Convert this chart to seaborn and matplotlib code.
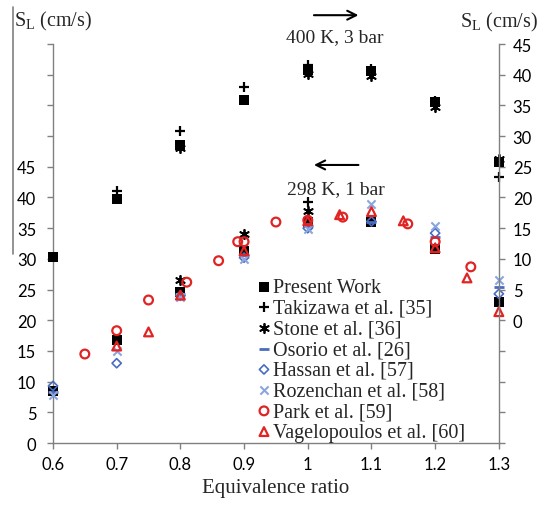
import matplotlib
matplotlib.use('Agg')
import matplotlib.pyplot as plt
from matplotlib.lines import Line2D
import seaborn as sns

# ---------------------------------------------------------------------------
# Data: laminar flame speed S_L (cm/s) vs equivalence ratio
# ---------------------------------------------------------------------------
# 298 K, 1 bar  -> left axis
phi_present = [0.6, 0.7, 0.8, 0.9, 1.0, 1.1, 1.2, 1.3]
sl_present_298 = [8.5, 16.8, 24.6, 31.3, 36.0, 36.0, 31.6, 23.0]
phi_takizawa_298 = [1.0]
sl_takizawa_298 = [39.3]
phi_stone_298 = [0.8, 0.9, 1.0]
sl_stone_298 = [26.6, 34.1, 37.8]
phi_osorio = [0.6, 0.8, 0.9, 1.0, 1.1, 1.2, 1.3]
sl_osorio = [8.3, 24.3, 30.6, 35.4, 36.0, 33.6, 25.4]
phi_hassan = [0.6, 0.7, 0.8, 0.9, 1.0, 1.1, 1.2, 1.3]
sl_hassan = [9.3, 13.0, 24.0, 30.2, 35.0, 36.1, 34.2, 24.3]
phi_rozenchan = [0.6, 0.7, 0.8, 0.9, 1.0, 1.1, 1.2, 1.3]
sl_rozenchan = [7.9, 15.0, 23.8, 30.0, 34.8, 39.0, 35.4, 26.6]
phi_park = [0.65, 0.70, 0.75, 0.81, 0.86, 0.89, 0.90, 0.95, 1.0, 1.055, 1.157, 1.2, 1.256]
sl_park = [14.5, 18.3, 23.3, 26.2, 29.7, 32.8, 32.8, 36.0, 36.3, 36.8, 35.7, 32.8, 28.7]
phi_vagelopoulos = [0.7, 0.75, 0.8, 0.9, 1.0, 1.05, 1.1, 1.15, 1.2, 1.25, 1.3]
sl_vagelopoulos = [15.8, 18.1, 24.1, 31.3, 36.2, 37.2, 37.7, 36.2, 31.8, 26.9, 21.4]

# 400 K, 3 bar  -> right axis
sl_present_400 = [10.3, 19.7, 28.5, 35.9, 40.8, 40.6, 35.6, 25.8]
phi_takizawa_400 = [0.7, 0.8, 0.9, 1.0, 1.1, 1.2, 1.3]
sl_takizawa_400 = [21.0, 30.8, 38.0, 41.6, 41.0, 35.8, 23.3]
phi_stone_400 = [0.8, 1.0, 1.1, 1.2, 1.3]
sl_stone_400 = [28.1, 40.1, 39.8, 34.7, 26.2]

x_ticks = [0.6, 0.7, 0.8, 0.9, 1.0, 1.1, 1.2, 1.3]
x_tick_labels = ['0.6', '0.7', '0.8', '0.9', '1', '1.1', '1.2', '1.3']

# ---------------------------------------------------------------------------
# Style
# ---------------------------------------------------------------------------
sns.set_style('ticks')
plt.rcParams['font.family'] = ['Liberation Serif', 'DejaVu Serif']
plt.rcParams['mathtext.fontset'] = 'custom'
plt.rcParams['mathtext.rm'] = 'Liberation Serif'
plt.rcParams['mathtext.it'] = 'Liberation Serif:italic'

BLACK = '#000000'
BLUE = '#4a6cc0'
LBLUE = '#8ba6dd'
RED = '#e02424'
GREY = '#808080'

fig = plt.figure(figsize=(5.44, 5.06), dpi=100)
ax = fig.add_axes([0.0974, 0.1225, 0.917 - 0.0974, 0.911 - 0.1225])
ax2 = ax.twinx()

sq = dict(marker='s', s=60, color=BLACK, edgecolor=BLACK, linewidth=0, clip_on=False)
plus = dict(marker='+', s=45, color=BLACK, linewidth=1.6, clip_on=False)
star = dict(marker=(6, 2, 0), s=45, color=BLACK, linewidth=1.3, clip_on=False)

# left axis series (298 K, 1 bar)
sns.scatterplot(x=phi_present, y=sl_present_298, ax=ax, label='Present Work', zorder=3, **sq)
sns.scatterplot(x=phi_takizawa_298, y=sl_takizawa_298, ax=ax, label='Takizawa et al. [35]', zorder=3, **plus)
sns.scatterplot(x=phi_stone_298, y=sl_stone_298, ax=ax, label='Stone et al. [36]', zorder=3, **star)
sns.scatterplot(x=phi_osorio, y=sl_osorio, ax=ax, label='Osorio et al. [26]', marker='_',
                s=45, color=BLUE, linewidth=2, clip_on=False, zorder=3)
sns.scatterplot(x=phi_hassan, y=sl_hassan, ax=ax, label='Hassan et al. [57]', marker='D',
                s=22, color=BLUE, facecolor='none', edgecolor=BLUE, linewidth=1.2,
                clip_on=False, zorder=3)
sns.scatterplot(x=phi_rozenchan, y=sl_rozenchan, ax=ax, label='Rozenchan et al. [58]', marker='x',
                s=35, color=LBLUE, linewidth=1.5, clip_on=False, zorder=3)
sns.scatterplot(x=phi_park, y=sl_park, ax=ax, label='Park et al. [59]', marker='o',
                s=40, color=RED, facecolor='none', edgecolor=RED, linewidth=1.6,
                clip_on=False, zorder=3)
sns.scatterplot(x=phi_vagelopoulos, y=sl_vagelopoulos, ax=ax, label='Vagelopoulos et al. [60]',
                marker='^', s=40, color=RED, facecolor='none', edgecolor=RED, linewidth=1.6,
                clip_on=False, zorder=4)

# right axis series (400 K, 3 bar)
sns.scatterplot(x=phi_present, y=sl_present_400, ax=ax2, legend=False, **sq)
sns.scatterplot(x=phi_takizawa_400, y=sl_takizawa_400, ax=ax2, legend=False, **plus)
sns.scatterplot(x=phi_stone_400, y=sl_stone_400, ax=ax2, legend=False, **star)

# axes
ax.set_xlim(0.6, 1.3)
ax.set_ylim(0, 65)
ax2.set_ylim(-20, 45)
ax.set_xticks(x_ticks)
ax.set_xticklabels(x_tick_labels, fontfamily='Lato', fontsize=12)
left_ticks = list(range(0, 70, 5))
ax.set_yticks(left_ticks)
ax.set_yticklabels([str(t) if t <= 45 else '' for t in left_ticks], fontfamily='Lato', fontsize=12)
right_ticks = list(range(-20, 50, 5))
ax2.set_yticks(right_ticks)
ax2.set_yticklabels([str(t) if t >= 0 else '' for t in right_ticks], fontfamily='Lato', fontsize=12)

for a in (ax, ax2):
    a.spines['top'].set_visible(False)
    for sp in a.spines.values():
        sp.set_color(GREY)
        sp.set_linewidth(1.0)
    a.tick_params(colors=GREY, labelcolor='black', length=4, width=1.0, direction='out')
ax.tick_params(axis='y', pad=8)
ax.tick_params(axis='x', pad=5)
ax2.tick_params(axis='y', pad=6)
ax2.spines['left'].set_visible(False)
ax2.spines['bottom'].set_visible(False)
ax.spines['right'].set_visible(False)
ax.set_xlabel('Equivalence ratio', fontsize=15, labelpad=5)
ax.set_ylabel('')
ax2.set_ylabel('')

leg = ax.legend(loc='upper left', bbox_to_anchor=(0.476, 0.449), bbox_transform=fig.transFigure,
                frameon=False, fontsize=14.5, handlelength=0.5, handletextpad=0.2,
                labelspacing=0.08, borderpad=0, borderaxespad=0)

# axis titles and annotations
fig.text(0.026, 0.957, r'S$_{\mathrm{L}}$ (cm/s)', fontsize=14.5, ha='left', va='center')
fig.text(0.845, 0.955, r'S$_{\mathrm{L}}$ (cm/s)', fontsize=14.5, ha='left', va='center')
fig.text(0.616, 0.925, '400 K, 3 bar', fontsize=14, ha='center', va='center')
fig.text(0.618, 0.6245, '298 K, 1 bar', fontsize=14, ha='center', va='center')
ax.annotate('', xy=(0.664, 0.968), xytext=(0.572, 0.968), xycoords='figure fraction',
            arrowprops=dict(arrowstyle='->', lw=1.5, color='black', mutation_scale=16))
ax.annotate('', xy=(0.572, 0.672), xytext=(0.664, 0.672), xycoords='figure fraction',
            arrowprops=dict(arrowstyle='->', lw=1.5, color='black', mutation_scale=16))

# leftover frame line on the far left
fig.add_artist(Line2D([0.024, 0.024], [0.984, 0.496], transform=fig.transFigure,
                      color=GREY, lw=1.2))

fig.savefig('out.png', dpi=100)
